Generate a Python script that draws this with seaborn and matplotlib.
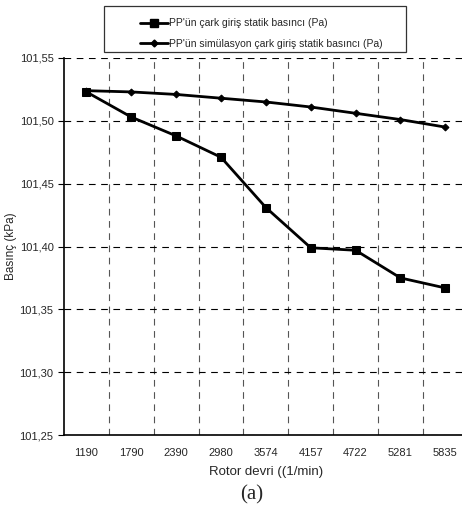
import numpy as np
import pandas as pd
import matplotlib
matplotlib.use('Agg')
import matplotlib.pyplot as plt
import seaborn as sns
from matplotlib.patches import Rectangle
from matplotlib.ticker import FixedLocator, FuncFormatter

# values
rpm = ['1190', '1790', '2390', '2980', '3574', '4157', '4722', '5281', '5835']
measured = [101.523, 101.503, 101.488, 101.471, 101.431, 101.399, 101.397, 101.375, 101.367]
simulated = [101.524, 101.523, 101.521, 101.518, 101.515, 101.511, 101.506, 101.501, 101.495]
series_names = ["PP'ün çark giriş statik basıncı (Pa)",
                "PP'ün simülasyon çark giriş statik basıncı (Pa)"]

pos = np.arange(len(rpm))
df = pd.DataFrame({
    'pos': np.concatenate([pos, pos]),
    'value': measured + simulated,
    'series': [series_names[0]] * len(rpm) + [series_names[1]] * len(rpm),
})

sns.set_style('white')
plt.rcParams['font.family'] = ['Liberation Sans', 'DejaVu Sans']

fig = plt.figure(figsize=(4.62, 5.15), dpi=100)
ax = fig.add_axes([0.1385, 0.1553, 0.874, 0.7321])

sns.lineplot(data=df, x='pos', y='value', hue='series', style='series',
             markers={series_names[0]: 's', series_names[1]: 'D'},
             dashes=False, palette=['black', 'black'],
             markersize=6, linewidth=2, ax=ax, legend=False)
for line, ms in zip(ax.lines, [6, 3.5]):
    line.set_markersize(ms)
    line.set_markeredgecolor('black')

ax.set_xlim(-0.5, 8.5)
ax.set_ylim(101.25, 101.55)
ax.set_yticks(np.arange(101.25, 101.551, 0.05))
ax.yaxis.set_major_formatter(FuncFormatter(lambda v, p: f'{v:.2f}'.replace('.', ',')))
ax.set_xticks(pos)
ax.set_xticklabels(rpm)
ax.xaxis.set_minor_locator(FixedLocator(pos[:-1] + 0.5))
ax.tick_params(axis='x', which='major', length=0, labelsize=8, pad=9)
ax.tick_params(axis='x', which='minor', length=4, width=0.8, color='black', direction='out')
ax.tick_params(axis='y', length=4, width=0.8, color='black', direction='out', labelsize=8, left=True)

ax.grid(False)
ax.yaxis.grid(True, which='major', linestyle=(0, (6, 5)), color='black', linewidth=0.8)
ax.xaxis.grid(True, which='minor', linestyle=(0, (6, 5)), color='#555555', linewidth=0.8)

for s in ['top', 'right']:
    ax.spines[s].set_visible(False)
for s in ['left', 'bottom']:
    ax.spines[s].set_color('black')
    ax.spines[s].set_linewidth(1.2)

ax.set_xlabel('Rotor devri ((1/min)', fontsize=9.5, labelpad=6)
ax.set_ylabel('Basınç (kPa)', fontsize=8.5, labelpad=1.5)

handles = [plt.Line2D([], [], color='black', marker='s', markersize=6, linewidth=2),
           plt.Line2D([], [], color='black', marker='D', markersize=3.5, linewidth=2)]
fig.legend(handles, series_names, loc='upper left', bbox_to_anchor=(0.2835, 0.9825),
           frameon=False, fontsize=7.5,
           handlelength=2.7, handletextpad=0.05, borderpad=0.4, labelspacing=1.0)
fig.patches.append(Rectangle((104 / 462, 1 - 52 / 515), 302 / 462, 46 / 515,
                             transform=fig.transFigure, fill=False,
                             edgecolor='#333333', linewidth=0.9))

fig.text(0.545, 1 - 495 / 515, '(a)', fontsize=15, family='Liberation Serif',
         ha='center', va='center')

fig.savefig('out.png', dpi=100)
